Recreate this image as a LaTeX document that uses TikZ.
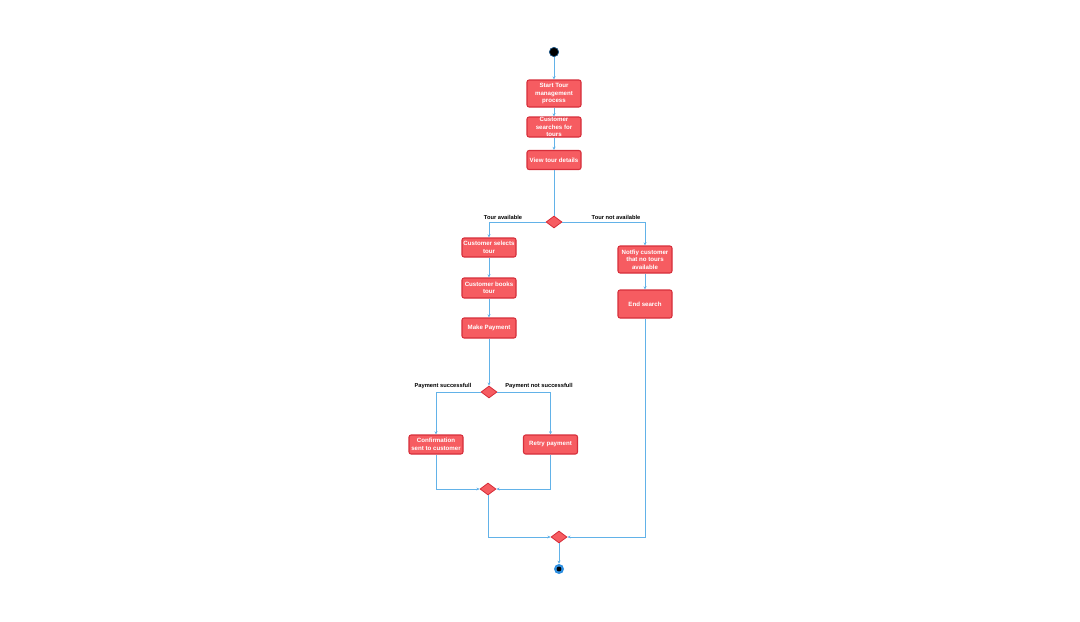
\documentclass[tikz,border=0pt]{standalone}
\usepackage{fontspec}
\setmainfont{Liberation Sans}
\usetikzlibrary{shapes.geometric,arrows.meta}
\definecolor{boxfill}{HTML}{F65C61}
\definecolor{boxline}{HTML}{D62E3A}
\definecolor{flow}{HTML}{62B2E8}
\definecolor{ring}{HTML}{2F8FE0}
\tikzset{
  actbox/.style={draw=boxline, fill=boxfill, line width=0.8pt, rounded corners=1.6pt,
    minimum width=40.5pt, inner sep=0pt, text=white, font=\fontsize{4.6}{5.6}\selectfont\bfseries,
    align=center},
  txt/.style={inner sep=0pt, text=white, font=\fontsize{4.6}{5.6}\selectfont\bfseries, align=center},
  dec/.style={diamond, draw=boxline, fill=boxfill, line width=0.6pt, inner sep=0pt,
    minimum width=12pt, minimum height=9pt},
  lbl/.style={inner sep=0pt, font=\fontsize{4.3}{5.2}\selectfont\bfseries, text=black},
  flowline/.style={draw=flow, line width=0.75pt, -{Stealth[length=2.4pt,width=2.2pt]}},
  plain/.style={draw=flow, line width=0.75pt},
}
\begin{document}
\begin{tikzpicture}[x=0.75pt,y=-0.75pt]
\useasboundingbox (0,0) rectangle (1080,621);
% start
\node[circle, fill=black, draw=ring!60!black, line width=0.5pt, minimum size=7pt, inner sep=0pt] (start) at (554,52) {};
% main column
\node[actbox, minimum height=20.25pt] (b1) at (554,93.5) {Start Tour\\management\\process};
\node[actbox, minimum height=15pt] (b2) at (554,127) {};
\node[txt] (b2t) at (554,127) {Customer\\searches for\\tours};
\node[actbox, minimum height=14.25pt] (b3) at (554,160) {View tour details};
\node[dec] (d1) at (554,222) {};
% left branch
\node[actbox, minimum height=14.25pt] (cst) at (489,247.5) {Customer selects\\tour};
\node[actbox, minimum height=15pt] (cbt) at (489,288) {Customer books\\tour};
\node[actbox, minimum height=15pt] (mp) at (489,328) {Make Payment};
\node[dec] (d2) at (489,392) {};
\node[actbox, minimum height=14.25pt] (conf) at (436,444.5) {Confirmation\\sent to customer};
\node[actbox, minimum height=14.25pt] (retry) at (550.5,444.5) {Retry payment};
\node[dec] (d3) at (488,489) {};
% right branch
\node[actbox, minimum height=20.25pt] (notify) at (645,259.5) {Notfiy customer\\that no tours\\available};
\node[actbox, minimum height=21pt] (es) at (645,304) {End search};
\node[dec] (d4) at (559,537) {};
% end
\node[circle, fill=ring, minimum size=7.5pt, inner sep=0pt] (endn) at (559,569) {};
\node[circle, fill=black, minimum size=3.6pt, inner sep=0pt] (endc) at (559,569) {};
% labels
\node[lbl] (l1) at (503,217) {Tour available};
\node[lbl] (l2) at (616,217) {Tour not available};
\node[lbl] (l3) at (443,386) {Payment successfull};
\node[lbl] (l4) at (539,386) {Payment not successfull};
% connectors
\draw[flowline] (start) -- (b1);
\draw[flowline] (b1) -- (b2);
\draw[flowline] (b2) -- (b3);
\draw[plain] (b3) -- (d1);
\draw[flowline] (d1.west) -| (cst.north);
\draw[flowline] (d1.east) -| (notify.north);
\draw[flowline] (cst) -- (cbt);
\draw[flowline] (cbt) -- (mp);
\draw[flowline] (mp) -- (d2);
\draw[flowline] (d2.west) -| (conf.north);
\draw[flowline] (d2.east) -| (retry.north);
\draw[flowline] (conf.south) |- (d3.west);
\draw[flowline] (retry.south) |- (d3.east);
\draw[flowline] (notify) -- (es);
\draw[flowline] (d3.south) |- (d4.west);
\draw[flowline] (es.south) |- (d4.east);
\draw[flowline] (d4) -- (endn);
\end{tikzpicture}
\end{document}
